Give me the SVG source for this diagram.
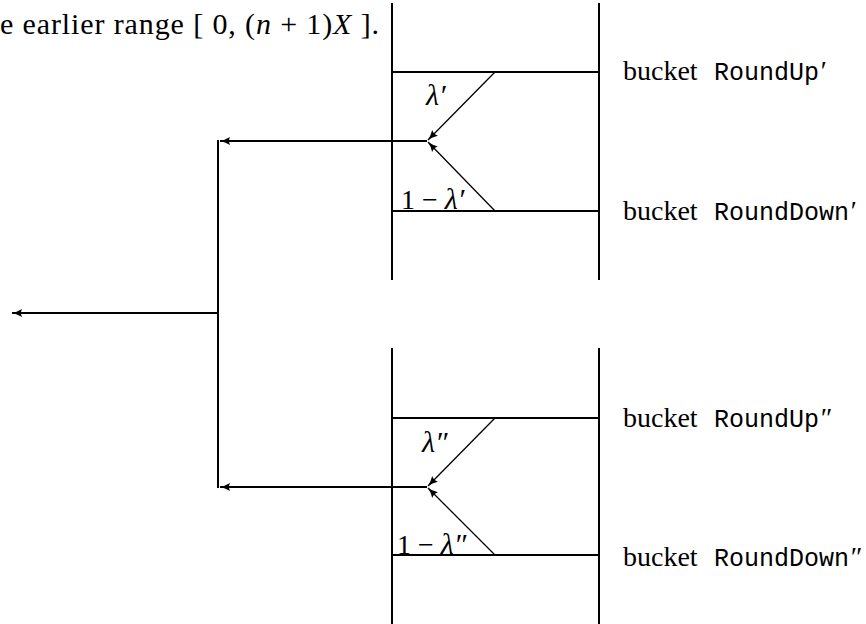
<svg xmlns="http://www.w3.org/2000/svg" width="866" height="624" viewBox="0 0 866 624">
  <style>
    .rule { stroke: #000; stroke-width: 2; fill: none; }
    .thin { stroke: #000; stroke-width: 1.3; fill: none; }
    .rm { font-family: "Liberation Serif", "DejaVu Serif", serif; font-size: 28px; fill: #000; }
    .it { font-family: "Liberation Serif", "DejaVu Serif", serif; font-style: italic; font-size: 28px; fill: #000; }
    .cap { font-family: "Liberation Serif", "DejaVu Serif", serif; font-size: 30px; fill: #000; }
    .lam { font-family: "Liberation Serif", "DejaVu Serif", serif; font-style: italic; font-size: 30px; fill: #000; }
    .tt { font-family: "Liberation Mono", "DejaVu Sans Mono", monospace; font-size: 25px; fill: #000; }
  </style>
  <defs>
    <marker id="head" markerWidth="12" markerHeight="10" refX="10" refY="5" orient="auto" markerUnits="userSpaceOnUse">
      <path d="M0,1 Q5,4 10,5 Q5,6 0,9 Q2,5 0,1 Z" fill="#000"/>
    </marker>
  </defs>

  <!-- caption fragment at the top -->
  <text class="cap" x="0" y="34" textLength="379" lengthAdjust="spacing">e earlier range [ 0, (<tspan font-style="italic">n</tspan> + 1)<tspan font-style="italic">X</tspan> ].</text>

  <!-- upper bucket column -->
  <g id="column-upper">
    <line class="rule" x1="392" y1="3" x2="392" y2="280"/>
    <line class="rule" x1="599" y1="3" x2="599" y2="280"/>
    <line class="rule" x1="392" y1="72" x2="599" y2="72" stroke-width="2.5"/>
    <line class="rule" x1="392" y1="211" x2="599" y2="211"/>
    <text class="lam" x="426" y="105">λ′</text>
    <text class="rm" x="401" y="209">1 − <tspan class="lam">λ′</tspan></text>
  </g>
  <g id="label-roundup1">
    <text x="623" y="80"><tspan class="rm">bucket</tspan><tspan class="tt" x="714">RoundUp</tspan><tspan class="it">′</tspan></text>
  </g>
  <g id="label-rounddown1">
    <text x="623" y="220"><tspan class="rm">bucket</tspan><tspan class="tt" x="714">RoundDown</tspan><tspan class="it">′</tspan></text>
  </g>

  <!-- lower bucket column -->
  <g id="column-lower">
    <line class="rule" x1="392" y1="348" x2="392" y2="624"/>
    <line class="rule" x1="599" y1="348" x2="599" y2="624"/>
    <line class="rule" x1="392" y1="418" x2="599" y2="418"/>
    <line class="rule" x1="392" y1="555" x2="599" y2="555"/>
    <text class="lam" x="422" y="452">λ″</text>
    <text class="rm" x="397" y="554">1 − <tspan class="lam">λ″</tspan></text>
  </g>
  <g id="label-roundup2">
    <text x="623" y="427"><tspan class="rm">bucket</tspan><tspan class="tt" x="714">RoundUp</tspan><tspan class="it">″</tspan></text>
  </g>
  <g id="label-rounddown2">
    <text x="623" y="566"><tspan class="rm">bucket</tspan><tspan class="tt" x="714">RoundDown</tspan><tspan class="it">″</tspan></text>
  </g>

  <!-- connectors -->
  <g id="connectors">
    <line class="thin" x1="495" y1="72" x2="428" y2="140" marker-end="url(#head)"/>
    <line class="thin" x1="495" y1="211" x2="428" y2="142" marker-end="url(#head)"/>
    <line class="rule" x1="427" y1="141" x2="220" y2="141" marker-end="url(#head)"/>
    <line class="thin" x1="495" y1="418" x2="428" y2="486" marker-end="url(#head)"/>
    <line class="thin" x1="495" y1="555" x2="428" y2="488" marker-end="url(#head)"/>
    <line class="rule" x1="427" y1="487" x2="220" y2="487" marker-end="url(#head)"/>
    <line class="rule" x1="218" y1="140" x2="218" y2="488"/>
    <line class="rule" x1="218" y1="313" x2="12" y2="313" marker-end="url(#head)"/>
  </g>
</svg>
